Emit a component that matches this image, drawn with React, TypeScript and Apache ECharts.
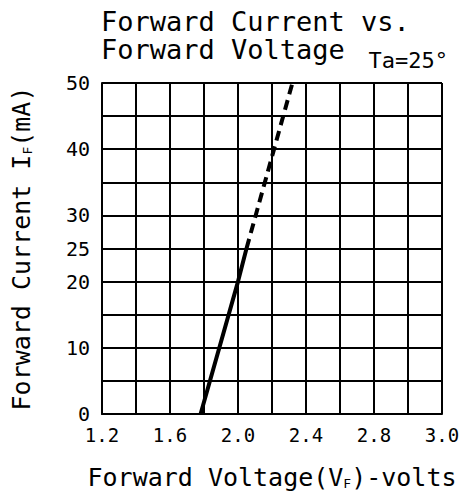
import React, { useEffect, useRef } from "react";
import * as echarts from "echarts";

const xTickValues = [1.2, 1.6, 2.0, 2.4, 2.8, 3.2];
const xTickLabels = ["1.2", "1.6", "2.0", "2.4", "2.8", "3.0"];
const yTickLabels = [0, 10, 20, 25, 30, 40, 50];
const solidCurve: [number, number][] = [[1.78, 0], [2.0, 20], [2.05, 25]];
const dashedCurve: [number, number][] = [[2.05, 25], [2.32, 50]];

const FONT = "DejaVu Sans Mono";

export default function App() {
  const ref = useRef<HTMLDivElement>(null);
  useEffect(() => {
    if (!ref.current) return;
    const chart = echarts.init(ref.current, null, { renderer: "svg" });
    chart.setOption({
      animation: false,
      backgroundColor: "#ffffff",
      title: {
        text: "Forward Current vs.\nForward Voltage",
        left: 96,
        top: 2,
        textStyle: { fontFamily: FONT, fontSize: 27, fontWeight: "normal", color: "#000", lineHeight: 28 },
      },
      graphic: [
        {
          type: "text",
          right: 18,
          top: 49,
          style: { text: "Ta=25°", font: `22px "${FONT}"`, fill: "#000" },
        },
      ],
      grid: { left: 102, right: 24, top: 83, bottom: 83, outerBoundsMode: "none", containLabel: false },
      xAxis: {
        type: "value",
        min: 1.2,
        max: 3.2,
        interval: 0.2,
        name: "Forward Voltage(V{sub|F})-volts",
        nameLocation: "middle",
        nameGap: 51,
        nameTextStyle: {
          fontFamily: FONT,
          fontSize: 25,
          color: "#000",
          rich: { sub: { fontFamily: FONT, fontSize: 13, color: "#000", verticalAlign: "bottom", padding: [12, 0, 0, 0] } },
        },
        axisLine: { show: true, lineStyle: { color: "#000", width: 2 } },
        axisTick: { show: false },
        splitLine: { show: true, lineStyle: { color: "#000", width: 2 } },
        axisLabel: {
          fontFamily: FONT,
          fontSize: 19,
          color: "#000",
          margin: 11,
          showMaxLabel: true,
          formatter: (v: number) => {
            const i = xTickValues.findIndex((t) => Math.abs(t - v) < 1e-6);
            return i >= 0 ? xTickLabels[i] : "";
          },
        },
      },
      yAxis: {
        type: "value",
        min: 0,
        max: 50,
        interval: 5,
        name: "Forward Current I{sub|F}(mA)",
        nameLocation: "middle",
        nameGap: 68,
        nameTextStyle: {
          fontFamily: FONT,
          fontSize: 25,
          color: "#000",
          rich: { sub: { fontFamily: FONT, fontSize: 13, color: "#000", verticalAlign: "bottom", padding: [12, 0, 0, 0] } },
        },
        axisLine: { show: true, lineStyle: { color: "#000", width: 2 } },
        axisTick: { show: false },
        splitLine: { show: true, lineStyle: { color: "#000", width: 2 } },
        axisLabel: {
          fontFamily: FONT,
          fontSize: 20,
          color: "#000",
          margin: 12,
          formatter: (v: number) => (yTickLabels.some((t) => Math.abs(t - v) < 1e-6) ? String(v) : ""),
        },
      },
      series: [
        {
          type: "line",
          data: solidCurve,
          symbol: "none",
          lineStyle: { color: "#000", width: 4 },
        },
        {
          type: "line",
          data: dashedCurve,
          symbol: "none",
          lineStyle: { color: "#000", width: 4, type: [10, 6] },
        },
      ],
    });
    return () => chart.dispose();
  }, []);
  return <div ref={ref} style={{ width: 466, height: 497, position: "absolute", left: 0, top: 0 }} />;
}
